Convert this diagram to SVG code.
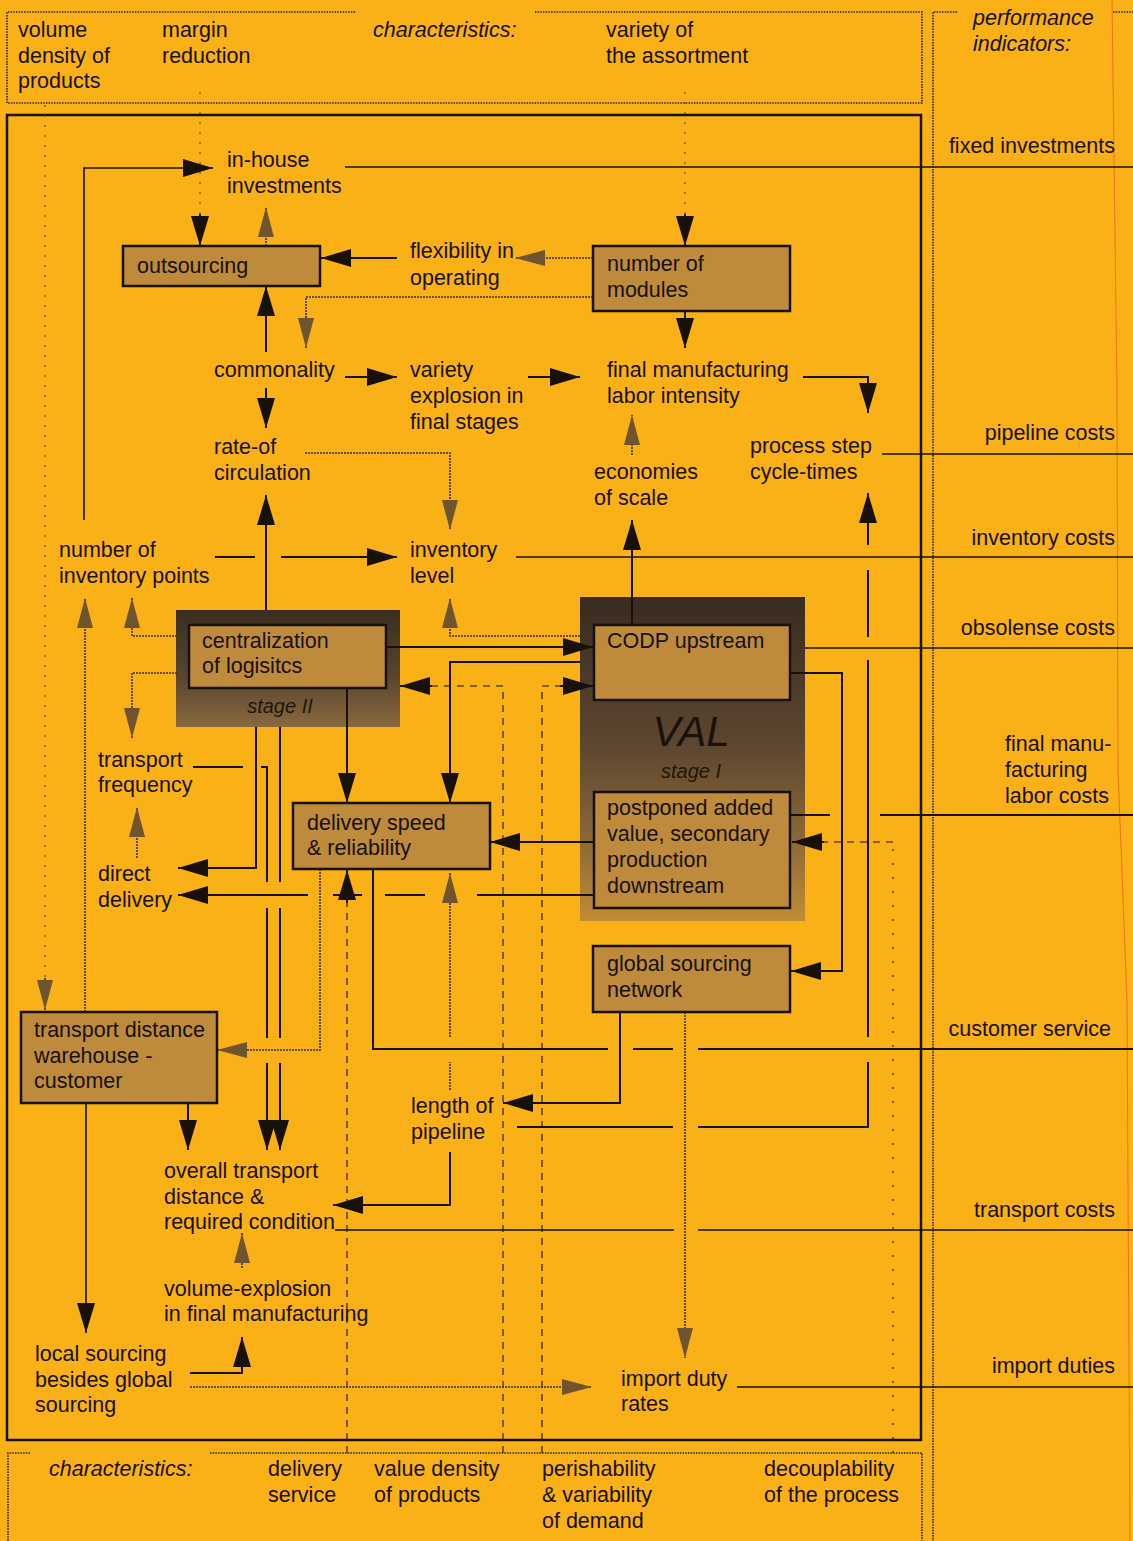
<svg xmlns="http://www.w3.org/2000/svg" width="1133" height="1541" viewBox="0 0 1133 1541">
<style>
.t{font-family:"Liberation Sans",Arial,sans-serif;font-size:21.5px;fill:#17110a}
.i{font-style:italic}
.box{fill:#BE8B3C;stroke:#17110a;stroke-width:2.5}
.s{fill:none;stroke:#17110a;stroke-width:2}
.th{fill:none;stroke:#17110a;stroke-width:1.6}
.dot{fill:none;stroke:#3e2f18;stroke-width:1.6;stroke-dasharray:2 1}
.dash{fill:none;stroke:#17110a;stroke-width:1.1;stroke-dasharray:7 6}
.sparse{fill:none;stroke:#3e2f18;stroke-width:1.3;stroke-dasharray:2 12}
.fd{fill:none;stroke:#2a2010;stroke-width:1.6;stroke-dasharray:1.5 1.2}
.guide{fill:none;stroke:#6a5020;stroke-width:1.2;stroke-dasharray:2 8}
.ab{marker-end:url(#ab)}
.ag{marker-end:url(#ag)}
</style>
<defs>
<marker id="ab" viewBox="0 0 30 18" refX="30" refY="9" markerWidth="30" markerHeight="18" markerUnits="userSpaceOnUse" orient="auto"><path d="M0,0 L30,9 L0,18 Z" fill="#17110a"/></marker>
<marker id="ag" viewBox="0 0 30 16" refX="30" refY="8" markerWidth="30" markerHeight="16" markerUnits="userSpaceOnUse" orient="auto"><path d="M0,0 L30,8 L0,16 Z" fill="#6e5530"/></marker>
<linearGradient id="g2" x1="0" y1="0" x2="0" y2="1"><stop offset="0" stop-color="#3a2e22"/><stop offset="0.55" stop-color="#574430"/><stop offset="1" stop-color="#8a683c"/></linearGradient>
<linearGradient id="g1" x1="0" y1="0" x2="0" y2="1"><stop offset="0" stop-color="#382c20"/><stop offset="0.45" stop-color="#5c4630"/><stop offset="0.75" stop-color="#8c6838"/><stop offset="1" stop-color="#c28c34"/></linearGradient>
</defs>
<rect x="0" y="0" width="1133" height="1541" fill="#FAB017"/>
<polyline points="1112,0 1117,390 1118,770 1127,1000 1130,1541" fill="none" stroke="#E8761A" stroke-width="1"/>

<g id="frames">
<path class="fd" d="M355,12 H7 V103 H922 V12 H535"/>
<rect x="7" y="115" width="914" height="1325" fill="none" stroke="#17110a" stroke-width="2.5"/>
<path class="fd" d="M30,1453 H8 V1541 M210,1453 H922 V1541"/>
<path class="fd" d="M957,12 H933 V1541 M1113,12 H1133"/>
</g>

<g id="top-characteristics">
<text class="t" x="18" y="37">volume</text>
<text class="t" x="18" y="63">density of</text>
<text class="t" x="18" y="88">products</text>
<text class="t" x="162" y="37">margin</text>
<text class="t" x="162" y="63">reduction</text>
<text class="t i" x="373" y="37">characteristics:</text>
<text class="t" x="606" y="37">variety of</text>
<text class="t" x="606" y="63">the assortment</text>
</g>

<g id="bottom-characteristics">
<text class="t i" x="49" y="1476">characteristics:</text>
<text class="t" x="268" y="1476">delivery</text>
<text class="t" x="268" y="1502">service</text>
<text class="t" x="374" y="1476">value density</text>
<text class="t" x="374" y="1502">of products</text>
<text class="t" x="542" y="1476">perishability</text>
<text class="t" x="542" y="1502">&amp; variability</text>
<text class="t" x="542" y="1528">of demand</text>
<text class="t" x="764" y="1476">decouplability</text>
<text class="t" x="764" y="1502">of the process</text>
</g>

<g id="performance-indicators">
<text class="t i" x="973" y="25">performance</text>
<text class="t i" x="973" y="51">indicators:</text>
<text class="t" x="1115" y="153" text-anchor="end">fixed investments</text>
<text class="t" x="1115" y="440" text-anchor="end">pipeline costs</text>
<text class="t" x="1115" y="545" text-anchor="end">inventory costs</text>
<text class="t" x="1115" y="635" text-anchor="end">obsolense costs</text>
<text class="t" x="1005" y="751">final manu-</text>
<text class="t" x="1005" y="777">facturing</text>
<text class="t" x="1005" y="803">labor costs</text>
<text class="t" x="1111" y="1036" text-anchor="end">customer service</text>
<text class="t" x="1115" y="1217" text-anchor="end">transport costs</text>
<text class="t" x="1115" y="1373" text-anchor="end">import duties</text>
</g>

<g id="n-centralization">
<rect x="176" y="610" width="224" height="117" fill="url(#g2)"/>
<rect class="box" x="189" y="625" width="197" height="63"/>
<text class="t" x="202" y="648">centralization</text>
<text class="t" x="202" y="673">of logisitcs</text>
<text class="t i" x="280" y="713" text-anchor="middle" style="font-size:20px;fill:#20160a">stage II</text>
</g>

<g id="n-val">
<rect x="580" y="597" width="225" height="324" fill="url(#g1)"/>
<text class="t i" x="691" y="746" text-anchor="middle" style="font-size:42px;fill:#1a120a">VAL</text>
<text class="t i" x="691" y="778" text-anchor="middle" style="font-size:20px;fill:#20160a">stage I</text>
</g>
<g id="n-codp">
<rect class="box" x="594" y="625" width="196" height="75"/>
<text class="t" x="607" y="648">CODP upstream</text>
</g>
<g id="n-postponed">
<rect class="box" x="594" y="792" width="196" height="116"/>
<text class="t" x="607" y="815">postponed added</text>
<text class="t" x="607" y="841">value, secondary</text>
<text class="t" x="607" y="867">production</text>
<text class="t" x="607" y="893">downstream</text>
</g>

<g id="connectors">
<path class="guide" d="M45,105 V982"/>
<path class="dot ag" d="M45,978 V1010"/>
<path class="guide" d="M200,92 V214"/>
<path class="s ab" d="M200,214 V246"/>
<path class="guide" d="M685,92 V214"/>
<path class="s ab" d="M685,214 V246"/>
<path class="th ab" d="M84,520 V168 H213"/>
<path class="th" d="M345,167 H1133"/>
<path class="dot ag" d="M266,246 V207"/>
<path class="s ab" d="M266,352 V286"/>
<path class="s ab" d="M397,258 H321"/>
<path class="dot ag" d="M593,258 H515"/>
<path class="dot ag" d="M593,297 H306 V348"/>
<path class="s ab" d="M685,311 V348"/>
<path class="s ab" d="M345,377 H397"/>
<path class="s ab" d="M266,388 V428"/>
<path class="s ab" d="M528,377 H580"/>
<path class="s ab" d="M803,377 H868 V413"/>
<path class="dot ag" d="M632,455 V415"/>
<path class="dot ag" d="M305,453 H450 V530"/>
<path class="s ab" d="M266,610 V495"/>
<path class="s ab" d="M632,625 V520"/>
<path class="th" d="M882,454 H1133"/>
<path class="s ab" d="M517,1127 H673 M698,1127 H868 V1062 M868,1037 V660 M868,637 V570 M868,545 V493"/>
<path class="s ab" d="M215,557 H255 M281,557 H397"/>
<path class="th" d="M516,557 H1133"/>
<path class="dot ag" d="M85,1012 V598"/>
<path class="dot ag" d="M177,636 H132 V598"/>
<path class="dot ag" d="M580,636 H450 V598"/>
<path class="s ab" d="M386,647 H593"/>
<path class="s ab" d="M580,662 H450 V803"/>
<path class="s ab" d="M347,688 V803"/>
<path class="dash" d="M503,1453 V686 H430"/>
<path class="s ab" d="M432,686 H400"/>
<path class="dash" d="M542,1453 V686 H562"/>
<path class="s ab" d="M560,686 H593"/>
<path class="th" d="M805,648 H1133"/>
<path class="s ab" d="M790,673 H842 V971 H791"/>
<path class="s ab" d="M256,727 V868 H178"/>
<path class="s ab" d="M193,767 H243 M261,767 H267 V882 M267,908 V1038 M267,1063 V1150"/>
<path class="s ab" d="M280,727 V882 M280,908 V1038 M280,1063 V1150"/>
<path class="dot ag" d="M137,858 V807"/>
<path class="dot ag" d="M177,673 H132 V738"/>
<path class="s ab" d="M593,895 H477 M425,895 H385 M362,895 H333 M308,895 H178"/>
<path class="s ab" d="M593,842 H490"/>
<path class="dash" d="M347,1453 V900"/>
<path class="s ab" d="M347,903 V870"/>
<path class="dot ag" d="M320,869 V1050 H217"/>
<path class="s" d="M373,869 V1049 H608 M633,1049 H673 M698,1049 H1133"/>
<path class="dot ag" d="M450,1090 V1062 M450,1037 V873"/>
<path class="s ab" d="M620,1012 V1103 H503"/>
<path class="dot ag" d="M685,1012 V1358"/>
<path class="s ab" d="M450,1152 V1205 H333"/>
<path class="s ab" d="M188,1103 V1150"/>
<path class="th" d="M335,1230 H674 M698,1230 H1133"/>
<path class="dot ag" d="M242,1268 V1233"/>
<path class="s ab" d="M190,1373 H242 V1337"/>
<path class="dot ag" d="M190,1387 H592"/>
<path class="th" d="M737,1387 H1133"/>
<path class="th ab" d="M86,1103 V1333"/>
<path class="sparse" d="M893,1453 V842"/>
<path class="dash" d="M893,842 H822"/>
<path class="s ab" d="M824,842 H792"/>
<path class="s" d="M790,815 H830 M880,815 H1133"/>
</g>

<g id="n-inhouse">
<text class="t" x="227" y="167">in-house</text>
<text class="t" x="227" y="193">investments</text>
</g>
<g id="n-outsourcing">
<rect class="box" x="123" y="246" width="197" height="40"/>
<text class="t" x="137" y="273">outsourcing</text>
</g>
<g id="n-flexibility">
<text class="t" x="410" y="258">flexibility in</text>
<text class="t" x="410" y="285">operating</text>
</g>
<g id="n-modules">
<rect class="box" x="593" y="246" width="197" height="65"/>
<text class="t" x="607" y="271">number of</text>
<text class="t" x="607" y="297">modules</text>
</g>
<g id="n-commonality">
<text class="t" x="214" y="377">commonality</text>
</g>
<g id="n-variety">
<text class="t" x="410" y="377">variety</text>
<text class="t" x="410" y="403">explosion in</text>
<text class="t" x="410" y="429">final stages</text>
</g>
<g id="n-finalmfg">
<text class="t" x="607" y="377">final manufacturing</text>
<text class="t" x="607" y="403">labor intensity</text>
</g>
<g id="n-rate">
<text class="t" x="214" y="454">rate-of</text>
<text class="t" x="214" y="480">circulation</text>
</g>
<g id="n-economies">
<text class="t" x="594" y="479">economies</text>
<text class="t" x="594" y="505">of scale</text>
</g>
<g id="n-process">
<text class="t" x="750" y="453">process step</text>
<text class="t" x="750" y="479">cycle-times</text>
</g>
<g id="n-invpoints">
<text class="t" x="59" y="557">number of</text>
<text class="t" x="59" y="583">inventory points</text>
</g>
<g id="n-invlevel">
<text class="t" x="410" y="557">inventory</text>
<text class="t" x="410" y="583">level</text>
</g>
<g id="n-transfreq">
<text class="t" x="98" y="767">transport</text>
<text class="t" x="98" y="792">frequency</text>
</g>
<g id="n-direct">
<text class="t" x="98" y="881">direct</text>
<text class="t" x="98" y="907">delivery</text>
</g>
<g id="n-delivery">
<rect class="box" x="293" y="803" width="197" height="66"/>
<text class="t" x="307" y="830">delivery speed</text>
<text class="t" x="307" y="855">&amp; reliability</text>
</g>
<g id="n-global">
<rect class="box" x="593" y="946" width="197" height="66"/>
<text class="t" x="607" y="971">global sourcing</text>
<text class="t" x="607" y="997">network</text>
</g>
<g id="n-transdist">
<rect class="box" x="21" y="1012" width="196" height="91"/>
<text class="t" x="34" y="1037">transport distance</text>
<text class="t" x="34" y="1063">warehouse -</text>
<text class="t" x="34" y="1088">customer</text>
</g>
<g id="n-length">
<text class="t" x="411" y="1113">length of</text>
<text class="t" x="411" y="1139">pipeline</text>
</g>
<g id="n-overall">
<text class="t" x="164" y="1178">overall transport</text>
<text class="t" x="164" y="1204">distance &amp;</text>
<text class="t" x="164" y="1229">required condition</text>
</g>
<g id="n-volexp">
<text class="t" x="164" y="1296">volume-explosion</text>
<text class="t" x="164" y="1321">in final manufacturing</text>
</g>
<g id="n-local">
<text class="t" x="35" y="1361">local sourcing</text>
<text class="t" x="35" y="1387">besides global</text>
<text class="t" x="35" y="1412">sourcing</text>
</g>
<g id="n-import">
<text class="t" x="621" y="1386">import duty</text>
<text class="t" x="621" y="1411">rates</text>
</g>
</svg>
